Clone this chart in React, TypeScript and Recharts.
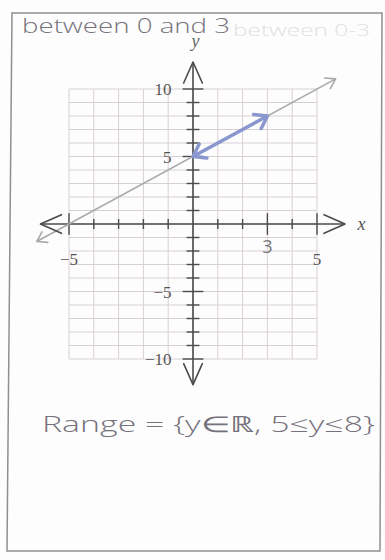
import React from 'react';
import { ComposedChart, Line, XAxis, YAxis, ReferenceLine } from 'recharts';

// grid and tick positions (units)
const gridXs = [-5, -4, -3, -2, -1, 0, 1, 2, 3, 4, 5];
const gridYs = [-10, -9, -8, -7, -6, -5, -4, -3, -2, -1, 0, 1, 2, 3, 4, 5, 6, 7, 8, 9, 10];
const xTicks = [-5, -4, -3, -2, -1, 1, 2, 3, 4, 5];
const yTicks = [-10, -9, -8, -7, -6, -5, -4, -3, -2, -1, 1, 2, 3, 4, 5, 6, 7, 8, 9, 10];
const xMajor = [-5, 3, 5];
const yMajor = [-10, -5, 5, 10];
const xTickLabels = [{ x: -5, text: '−5' }, { x: 5, text: '5' }];
const yTickLabels = [{ y: 10, text: '10' }, { y: 5, text: '5' }, { y: -5, text: '−5' }, { y: -10, text: '−10' }];

// axes with arrow ends
const xAxisLine = [{ x: -6.15, y: 0 }, { x: 6.13, y: 0 }];
const yAxisLine = [{ x: 0, y: -11.9 }, { x: 0, y: 12 }];

// y = x + 5 and the highlighted part for 0 ≤ x ≤ 3
const fullLine = [{ x: -6.3, y: -1.3 }, { x: 5.75, y: 10.75 }];
const rangePart = [{ x: 0, y: 5 }, { x: 3, y: 8 }];

const AXIS = '#4b4b4b';
const GRID = '#d8cfd5';
const PENCIL = '#76727c';
const SERIF = '"Liberation Serif", "DejaVu Serif", serif';
const HAND = '"Open Sans", "Noto Sans", sans-serif';

const arrowEnds = (color: string, width: number, len: number, spreadDeg: number) => (props: any) => {
  const { index, points } = props;
  const key = `tip-${index}`;
  if (!points || points.length < 2) return <g key={key} />;
  const last = points.length - 1;
  if (index !== 0 && index !== last) return <g key={key} />;
  const tip = points[index];
  const from = index === 0 ? points[1] : points[last - 1];
  const base = Math.atan2(from.y - tip.y, from.x - tip.x);
  const s = (spreadDeg * Math.PI) / 180;
  const [a, b] = [base + s, base - s].map((t) => `${tip.x + len * Math.cos(t)},${tip.y + len * Math.sin(t)}`);
  return (
    <path key={key} d={`M${a} L${tip.x},${tip.y} L${b}`} fill="none" stroke={color}
      strokeWidth={width} strokeLinecap="round" strokeLinejoin="round" />
  );
};

const App: React.FC = () => (
  <div style={{ position: 'absolute', left: 0, top: 0, width: 385, height: 560, background: '#fdfdfd' }}>
    <svg width={385} height={560} style={{ position: 'absolute', left: 0, top: 0 }}>
      <polygon points="12,13 382,13 380,551 7,551" fill="none" stroke="#8f8f8f" strokeWidth={1.5} />
      <text x={22} y={33} fontFamily={HAND} fontWeight={300} fontSize={20} fill={PENCIL} textLength={208} lengthAdjust="spacingAndGlyphs">
        between 0 and 3
      </text>
      <text x={233} y={36} fontFamily={HAND} fontWeight={300} fontSize={16} fill="#e0dfe2" textLength={137} lengthAdjust="spacingAndGlyphs">
        between 0-3
      </text>
      <text x={42} y={432} fontFamily={HAND} fontWeight={300} fontSize={22} fill={PENCIL} textLength={333} lengthAdjust="spacingAndGlyphs">
        Range = {'{'}y∈ℝ, 5≤y≤8{'}'}
      </text>
    </svg>
    <div style={{ position: 'absolute', left: 0, top: 0 }}>
      <ComposedChart width={385} height={560} margin={{ top: 62, right: 18.4, bottom: 174, left: 19.4 }}>
        <XAxis type="number" dataKey="x" domain={[-7, 7]} hide />
        <YAxis type="number" dataKey="y" domain={[-12, 12]} hide />

        {gridXs.map((x) => (
          <ReferenceLine key={`gx${x}`} segment={[{ x, y: -10 }, { x, y: 10 }]} stroke={GRID} strokeWidth={1} />
        ))}
        {gridYs.map((y) => (
          <ReferenceLine key={`gy${y}`} segment={[{ x: -5, y }, { x: 5, y }]} stroke={GRID} strokeWidth={1} />
        ))}

        {xTicks.map((x) => {
          const h = xMajor.includes(x) ? 0.8 : 0.37;
          return <ReferenceLine key={`tx${x}`} segment={[{ x, y: -h }, { x, y: h }]} stroke={AXIS} strokeWidth={1.4} />;
        })}
        {yTicks.map((y) => {
          const w = yMajor.includes(y) ? 0.42 : 0.26;
          return <ReferenceLine key={`ty${y}`} segment={[{ x: -w, y }, { x: w, y }]} stroke={AXIS} strokeWidth={1.4} />;
        })}

        {xTickLabels.map((t) => (
          <ReferenceLine key={`lx${t.x}`} segment={[{ x: t.x, y: -0.8 }, { x: t.x, y: -0.8 }]} stroke="none"
            label={{ value: t.text, position: 'bottom', offset: 18, fill: '#555', fontSize: 17, fontFamily: SERIF }} />
        ))}
        {yTickLabels.map((t) => (
          <ReferenceLine key={`ly${t.y}`} segment={[{ x: -0.42, y: t.y }, { x: -0.42, y: t.y }]} stroke="none"
            label={{ value: t.text, position: 'left', offset: 11, fill: '#555', fontSize: 17, fontFamily: SERIF }} />
        ))}
        <ReferenceLine segment={[{ x: 3, y: -0.6 }, { x: 3, y: -0.6 }]} stroke="none"
          label={{ value: '3', position: 'bottom', offset: 8, fill: '#777', fontSize: 18, fontFamily: HAND }} />
        <ReferenceLine segment={[{ x: 6.55, y: 0 }, { x: 6.55, y: 0 }]} stroke="none"
          label={{ value: 'x', position: 'right', offset: 2, fill: '#555', fontSize: 18, fontFamily: SERIF, fontStyle: 'italic' }} />
        <ReferenceLine segment={[{ x: 0.1, y: 13.6 }, { x: 0.1, y: 13.6 }]} stroke="none" ifOverflow="visible"
          label={{ value: 'y', position: 'center', fill: '#666', fontSize: 18, fontFamily: SERIF, fontStyle: 'italic' }} />

        <Line data={xAxisLine} dataKey="y" stroke={AXIS} strokeWidth={1.6} isAnimationActive={false}
          dot={arrowEnds(AXIS, 1.6, 23, 24)} activeDot={false} />
        <Line data={yAxisLine} dataKey="y" stroke={AXIS} strokeWidth={1.6} isAnimationActive={false}
          dot={arrowEnds(AXIS, 1.6, 23, 24)} activeDot={false} />
        <Line data={fullLine} dataKey="y" stroke="#a9a9ab" strokeWidth={1.6} isAnimationActive={false}
          dot={arrowEnds('#a9a9ab', 1.6, 11, 33)} activeDot={false} />
        <Line data={rangePart} dataKey="y" stroke="#8a97cf" strokeWidth={3.5} isAnimationActive={false}
          dot={arrowEnds('#8a97cf', 3.5, 14, 35)} activeDot={false} />
      </ComposedChart>
    </div>
  </div>
);

export default App;
